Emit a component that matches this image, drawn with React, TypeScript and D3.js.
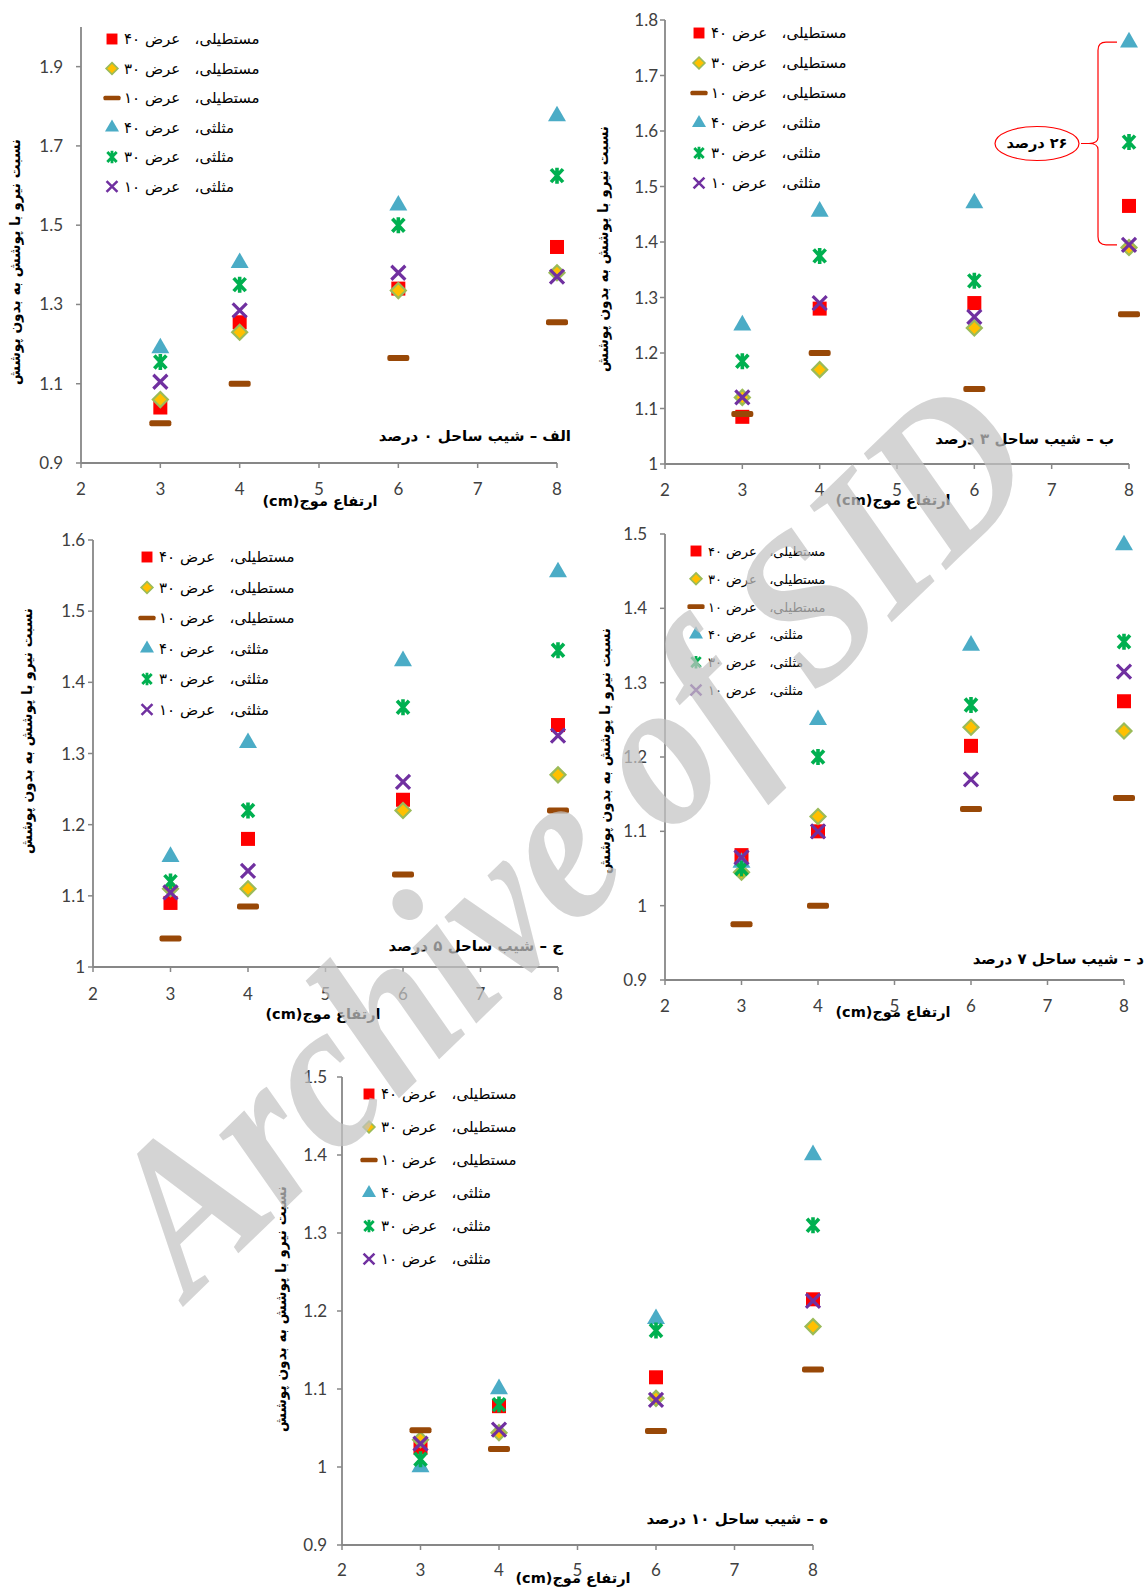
import React from 'react';
import * as d3 from 'd3';

// wave height (cm) on the x axis
const waveHeights = [3, 4, 6, 8];
const xTicks = [2, 3, 4, 5, 6, 7, 8];

const legendLabels = [
  'مستطیلی،   عرض ۴۰',
  'مستطیلی،   عرض ۳۰',
  'مستطیلی،   عرض ۱۰',
  'مثلثی،   عرض ۴۰',
  'مثلثی،   عرض ۳۰',
  'مثلثی،   عرض ۱۰',
];
const markerKinds = ['square', 'diamond', 'dash', 'triangle', 'star', 'cross'];

// series order: rect40, rect30, rect10, tri40, tri30, tri10
const slope0 = [
  [1.04, 1.255, 1.34, 1.445],
  [1.06, 1.23, 1.335, 1.38],
  [1.0, 1.1, 1.165, 1.255],
  [1.19, 1.405, 1.55, 1.775],
  [1.155, 1.35, 1.5, 1.625],
  [1.105, 1.285, 1.38, 1.37],
];
const slope3 = [
  [1.085, 1.28, 1.29, 1.465],
  [1.12, 1.17, 1.245, 1.39],
  [1.09, 1.2, 1.135, 1.27],
  [1.25, 1.455, 1.47, 1.76],
  [1.185, 1.375, 1.33, 1.58],
  [1.12, 1.29, 1.265, 1.395],
];
const slope5 = [
  [1.09, 1.18, 1.235, 1.34],
  [1.11, 1.11, 1.22, 1.27],
  [1.04, 1.085, 1.13, 1.22],
  [1.155, 1.315, 1.43, 1.555],
  [1.12, 1.22, 1.365, 1.445],
  [1.105, 1.135, 1.26, 1.325],
];
const slope7 = [
  [1.068, 1.1, 1.215, 1.275],
  [1.045, 1.12, 1.24, 1.235],
  [0.975, 1.0, 1.13, 1.145],
  [1.058, 1.25, 1.35, 1.485],
  [1.05, 1.2, 1.27, 1.355],
  [1.065, 1.1, 1.17, 1.315],
];
const slope10 = [
  [1.025, 1.078, 1.115, 1.215],
  [1.035, 1.044, 1.088, 1.18],
  [1.047, 1.023, 1.046, 1.125],
  [1.0, 1.1, 1.19, 1.4],
  [1.01, 1.08, 1.175, 1.31],
  [1.03, 1.048, 1.086, 1.213],
];

const ticks0 = [0.9, 1.1, 1.3, 1.5, 1.7, 1.9];
const ticks3 = [1, 1.1, 1.2, 1.3, 1.4, 1.5, 1.6, 1.7, 1.8];
const ticks5 = [1, 1.1, 1.2, 1.3, 1.4, 1.5, 1.6];
const ticks7 = [0.9, 1, 1.1, 1.2, 1.3, 1.4, 1.5];
const ticks10 = [0.9, 1, 1.1, 1.2, 1.3, 1.4, 1.5];

const panelTitles = [
  'الف – شیب ساحل ۰ درصد',
  'ب – شیب ساحل ۳ درصد',
  'ج – شیب ساحل ۵ درصد',
  'د – شیب ساحل ۷ درصد',
  'ه – شیب ساحل ۱۰ درصد',
];
const yTitle = 'نسبت نیرو با پوشش به بدون پوشش';
const xTitle = 'ارتفاع موج(cm)';
const noteText = '۲۶ درصد';

const fa = '"DejaVu Sans", sans-serif';
const num = 'Lato, "Liberation Sans", sans-serif';

const panels = [
  { data: slope0, ticks: ticks0, dom: [0.9, 2.0], l: 81, r: 557, t: 27, b: 463, g: 18,
    lx: 112, ly: 39, ls: 29.5, lf: 15, tr: 571, ty: 441, yx: 15, yc: 262, xc: 320, xy: 506, tl: 495 },
  { data: slope3, ticks: ticks3, dom: [1, 1.8], l: 665, r: 1129, t: 20, b: 464, g: 7,
    lx: 699, ly: 33, ls: 30, lf: 15, tr: 1114, ty: 444, yx: 603, yc: 249, xc: 893, xy: 505, tl: 496 },
  { data: slope5, ticks: ticks5, dom: [1, 1.6], l: 93, r: 558, t: 540, b: 967, g: 8,
    lx: 147, ly: 557, ls: 30.5, lf: 15, tr: 563, ty: 951, yx: 27, yc: 731, xc: 323, xy: 1019, tl: 1000 },
  { data: slope7, ticks: ticks7, dom: [0.9, 1.5], l: 665, r: 1124, t: 534, b: 980, g: 18,
    lx: 696, ly: 551, ls: 27.8, lf: 13, tr: 1144, ty: 964, yx: 605, yc: 751, xc: 893, xy: 1017, tl: 1012 },
  { data: slope10, ticks: ticks10, dom: [0.9, 1.5], l: 342, r: 813, t: 1077, b: 1545, g: 15,
    lx: 369, ly: 1094, ls: 33, lf: 15, tr: 828, ty: 1524, yx: 281, yc: 1309, xc: 573, xy: 1583, tl: 1576 },
];

function Marker({ kind, x, y, k = 1 }) {
  const t = `translate(${x},${y}) scale(${k})`;
  if (kind === 'square') return <rect transform={t} x={-7} y={-7} width={14} height={14} fill="#FF0000" />;
  if (kind === 'diamond')
    return <path transform={t} d="M0,-7.5L7.5,0L0,7.5L-7.5,0Z" fill="#FFC000" stroke="#9BBB59" strokeWidth={2.2} />;
  if (kind === 'dash') return <rect transform={t} x={-11} y={-3} width={22} height={6} rx={2} fill="#984807" />;
  if (kind === 'triangle')
    return <path transform={t} d={d3.symbol(d3.symbolTriangle, 140)()} fill="#4BACC6" />;
  if (kind === 'star')
    return (
      <path transform={t} d="M-6,-6.5L6,6.5M-6,6.5L6,-6.5M0,-8L0,8" stroke="#00B050" strokeWidth={3.6} fill="none" />
    );
  return <path transform={t} d="M-7,-7L7,7M-7,7L7,-7" stroke="#7030A0" strokeWidth={3.2} fill="none" />;
}

function Panel({ p, title, idx }) {
  const x = d3.scaleLinear().domain([2, 8]).range([p.l, p.r]);
  const y = d3.scaleLinear().domain(p.dom).range([p.b, p.t]);
  const axis = '#878787';
  return (
    <g>
      <line x1={p.l} x2={p.l} y1={p.t} y2={p.b} stroke={axis} strokeWidth={1.8} />
      <line x1={p.l} x2={p.r} y1={p.b} y2={p.b} stroke={axis} strokeWidth={1.8} />
      {p.ticks.map((v) => (
        <g key={'y' + v}>
          <line x1={p.l - 5} x2={p.l} y1={y(v)} y2={y(v)} stroke={axis} strokeWidth={1.5} />
          <text x={p.l - p.g} y={y(v) + 6} textAnchor="end" fontFamily={num} fontSize={17} fill="#404040">
            {String(+v.toFixed(1))}
          </text>
        </g>
      ))}
      {xTicks.map((v) => (
        <g key={'x' + v}>
          <line x1={x(v)} x2={x(v)} y1={p.b} y2={p.b + 5} stroke={axis} strokeWidth={1.5} />
          <text x={x(v)} y={p.tl} textAnchor="middle" fontFamily={num} fontSize={17} fill="#404040">
            {v}
          </text>
        </g>
      ))}
      <text
        transform={`translate(${p.yx},${p.yc}) rotate(-90)`}
        textAnchor="middle"
        dy="0.35em"
        fontFamily={fa}
        fontWeight="bold"
        fontSize={14.5}
        direction="rtl"
        textLength={246}
        lengthAdjust="spacingAndGlyphs"
      >
        {yTitle}
      </text>
      <text x={p.xc} y={p.xy} textAnchor="middle" direction="rtl" fontFamily={fa} fontWeight="bold" fontSize={14.5}>
        {xTitle}
      </text>
      <text x={p.tr} y={p.ty} textAnchor="end" fontFamily={fa} fontWeight="bold" fontSize={15}>
        {title}
      </text>
      {legendLabels.map((lab, i) => (
        <g key={'lg' + i}>
          <Marker kind={markerKinds[i]} x={p.lx} y={p.ly + i * p.ls} k={0.78} />
          <text
            x={p.lx + 12}
            y={p.ly + i * p.ls + 5}
            fontFamily={fa}
            fontSize={p.lf}
            style={{ whiteSpace: 'pre' }}
          >
            {lab}
          </text>
        </g>
      ))}
      {p.data.map((series, si) =>
        series.map((v, j) => <Marker key={si + '-' + j} kind={markerKinds[si]} x={x(waveHeights[j])} y={y(v)} />)
      )}
      {idx === 1 && <Brace x={x} y={y} />}
    </g>
  );
}

function Brace({ x, y }) {
  const top = y(slope3[3][3]);
  const bot = y(slope3[5][3]);
  const mid = (top + bot) / 2;
  const vx = x(8) - 31;
  const ax = x(8) - 12;
  const tip = vx - 17;
  const d = `M${ax},${top} L${vx + 8},${top} Q${vx},${top} ${vx},${top + 8} L${vx},${mid - 6} Q${vx},${mid} ${tip + 8},${mid} L${tip},${mid} M${tip + 8},${mid} Q${vx},${mid} ${vx},${mid + 6} L${vx},${bot - 8} Q${vx},${bot} ${vx + 8},${bot} L${ax},${bot}`;
  const cx = tip - 2 - 42;
  return (
    <g>
      <path d={d} fill="none" stroke="#FF0000" strokeWidth={1.2} />
      <ellipse cx={cx} cy={mid} rx={42} ry={17} fill="none" stroke="#FF0000" strokeWidth={1.2} />
      <text x={cx} y={mid + 5} textAnchor="middle" direction="rtl" fontFamily={fa} fontWeight="bold" fontSize={14.5}>
        {noteText}
      </text>
    </g>
  );
}

export default function App() {
  return (
    <div style={{ position: 'absolute', left: 0, top: 0 }}>
      <svg width={1147} height={1591} style={{ display: 'block', background: '#fff' }}>
        {panels.map((p, i) => (
          <Panel key={i} p={p} title={panelTitles[i]} idx={i} />
        ))}
        <text
          transform="translate(190,1300) rotate(-44)"
          fontFamily='"Liberation Serif", serif'
          fontStyle="italic"
          fontWeight="bold"
          fontSize={215}
          fill="#c4c4c4"
          opacity={0.72}
          textLength={1190}
          lengthAdjust="spacingAndGlyphs"
        >
          Archive of SID
        </text>
      </svg>
    </div>
  );
}
